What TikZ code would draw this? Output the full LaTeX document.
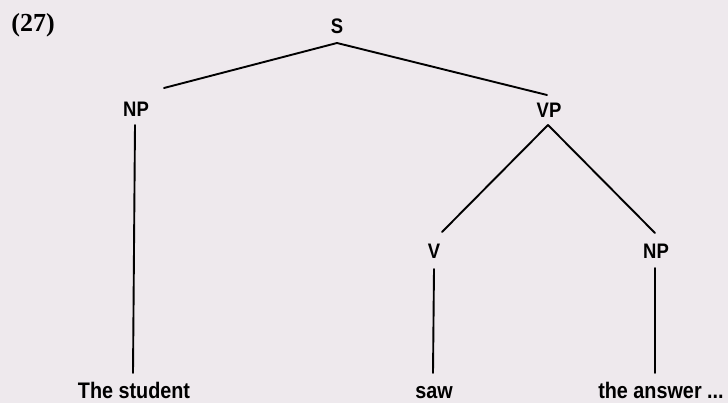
\documentclass[tikz,border=0pt]{standalone}
\usepackage{fontspec}
\setmainfont{Liberation Sans}
\newfontfamily\condfont[FakeStretch=0.88]{Liberation Sans}
\newfontfamily\numfont{Liberation Serif}
\definecolor{paper}{RGB}{238,233,237}
\begin{document}
\begin{tikzpicture}[x=1pt,y=-1pt,
  lab/.style={inner sep=0pt,anchor=base,font=\fontsize{21}{23}\selectfont\condfont\bfseries},
  leaf/.style={inner sep=0pt,anchor=base,font=\fontsize{22.5}{24}\selectfont\condfont\bfseries},
  edge/.style={line width=1.9pt,line cap=round}]
\fill[paper] (0,0) rectangle (728,403);
\useasboundingbox (0,0) rectangle (728,403);
\node[inner sep=0pt,anchor=base,font=\fontsize{26}{28}\selectfont\numfont\bfseries] (num) at (33,32) {(27)};
\node[lab] (S) at (337,34) {S};
\node[lab] (NPa) at (136,117) {NP};
\node[lab] (VP) at (549,118) {VP};
\node[lab] (V) at (434,259) {V};
\node[lab] (NPb) at (656,259) {NP};
\node[leaf] (w1) at (134,398) {The student};
\node[leaf] (w2) at (434,398) {saw};
\node[leaf] (w3) at (661,398) {the answer ...};
\coordinate (Sb) at (337,43);
\coordinate (NPat) at (164,88);
\coordinate (VPt) at (547,95);
\coordinate (NPab) at (135,125);
\coordinate (w1t) at (133,373);
\coordinate (VPb) at (548,125);
\coordinate (Vt) at (442,232);
\coordinate (NPbt) at (655,233);
\coordinate (Vb) at (434,269);
\coordinate (w2t) at (433,373);
\coordinate (NPbb) at (655,268);
\coordinate (w3t) at (655,373);
\draw[edge] (Sb) -- (NPat);
\draw[edge] (Sb) -- (VPt);
\draw[edge] (NPab) -- (w1t);
\draw[edge] (VPb) -- (Vt);
\draw[edge] (VPb) -- (NPbt);
\draw[edge] (Vb) -- (w2t);
\draw[edge] (NPbb) -- (w3t);
\end{tikzpicture}
\end{document}
